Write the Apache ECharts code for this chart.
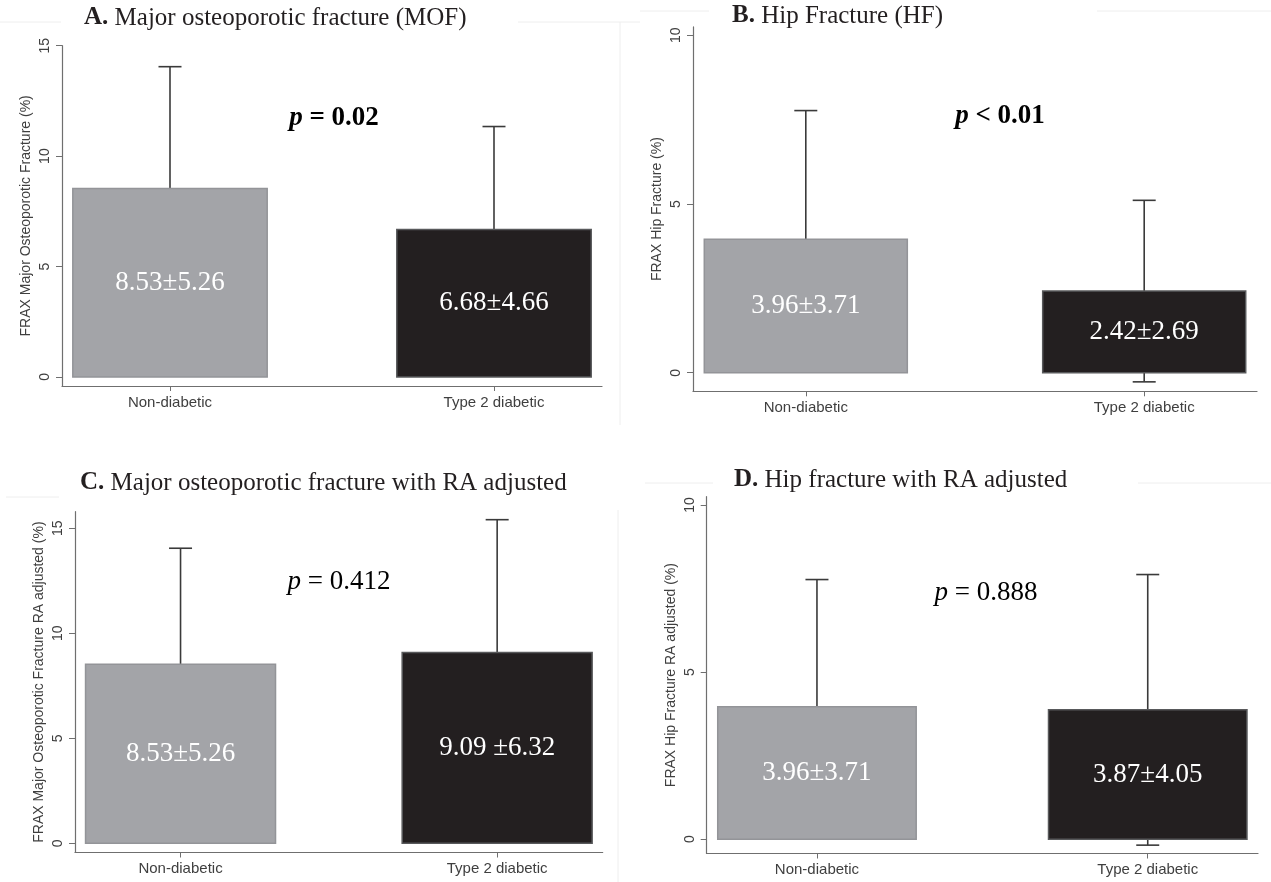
<!DOCTYPE html>
<html>
<head>
<meta charset="utf-8">
<title>FRAX scores: non-diabetic vs type 2 diabetic</title>
<script src="https://cdn.jsdelivr.net/npm/echarts@6/dist/echarts.min.js"></script>
<style>
  html, body { margin: 0; padding: 0; background: #fff; }
  #chart { width: 1271px; height: 882px; }
</style>
</head>
<body>
<div id="chart"></div>
<script>
  // categories and their positions on the x axis
  const groups = ['Non-diabetic', 'Type 2 diabetic'];
  const groupX = [1, 2];

  // A. major osteoporotic fracture
  const mofMean = [8.53, 6.68];
  const mofLow = [3.27, 2.02];
  const mofHigh = [14.05, 11.34];
  const mofText = ['8.53±5.26', '6.68±4.66'];

  // B. hip fracture
  const hfMean = [3.96, 2.42];
  const hfLow = [0.25, -0.27];
  const hfHigh = [7.77, 5.11];
  const hfText = ['3.96±3.71', '2.42±2.69'];

  // C. major osteoporotic fracture, RA adjusted
  const mofAdjMean = [8.53, 9.09];
  const mofAdjLow = [3.27, 2.77];
  const mofAdjHigh = [14.05, 15.41];
  const mofAdjText = ['8.53±5.26', '9.09 ±6.32'];

  // D. hip fracture, RA adjusted
  const hfAdjMean = [3.96, 3.87];
  const hfAdjLow = [0.25, -0.18];
  const hfAdjHigh = [7.77, 7.92];
  const hfAdjText = ['3.96±3.71', '3.87±4.05'];

  // tick labels
  const mofTicks = [0, 5, 10, 15];
  const hipTicks = [0, 5, 10];

  const serif = '"Liberation Serif", "Times New Roman", serif';
  const sans = '"Liberation Sans", Arial, sans-serif';
  const barFill = ['#a3a4a8', '#231f20'];
  const barStroke = ['#939498', '#58595b'];
  const axisColor = '#6f6f6f';
  const labelColor = '#3f3f3f';
  const BAR_HALF = 0.3;
  const CAP = 11.5;

  const panels = [
    {mean: mofMean, low: mofLow, high: mofHigh, text: mofText, ticks: mofTicks,
     name: 'FRAX Major Osteoporotic Fracture (%)',
     grid: {left: 62, right: 669, top: 45.7, bottom: 496}, min: -0.41, max: 15},
    {mean: hfMean, low: hfLow, high: hfHigh, text: hfText, ticks: hipTicks,
     name: 'FRAX Hip Fracture (%)',
     grid: {left: 693, right: 14, top: 26.9, bottom: 490.7}, min: -0.55, max: 10.25},
    {mean: mofAdjMean, low: mofAdjLow, high: mofAdjHigh, text: mofAdjText, ticks: mofTicks,
     name: 'FRAX Major Osteoporotic Fracture RA adjusted (%)',
     grid: {left: 75, right: 668.3, top: 511.7, bottom: 29.5}, min: -0.44, max: 15.79},
    {mean: hfAdjMean, low: hfAdjLow, high: hfAdjHigh, text: hfAdjText, ticks: hipTicks,
     name: 'FRAX Hip Fracture RA adjusted (%)',
     grid: {left: 706.7, right: 13, top: 496.7, bottom: 28.5}, min: -0.43, max: 10.25}
  ];

  function makeRender(panel) {
    return function (params, api) {
      const i = params.dataIndex;
      const x = api.value(0);
      const a = api.coord([x - BAR_HALF, api.value(1)]);
      const b = api.coord([x + BAR_HALF, 0]);
      const top = api.coord([x, api.value(3)]);
      const bot = api.coord([x, api.value(2)]);
      const err = {stroke: '#3a3a3a', lineWidth: 1.6};
      return {
        type: 'group',
        children: [
          {type: 'line', shape: {x1: top[0], y1: top[1], x2: bot[0], y2: bot[1]}, style: err},
          {type: 'line', shape: {x1: top[0] - CAP, y1: top[1], x2: top[0] + CAP, y2: top[1]}, style: err},
          {type: 'line', shape: {x1: bot[0] - CAP, y1: bot[1], x2: bot[0] + CAP, y2: bot[1]}, style: err},
          {type: 'rect', shape: {x: a[0], y: a[1], width: b[0] - a[0], height: b[1] - a[1]},
           style: {fill: barFill[i], stroke: barStroke[i], lineWidth: 1.5}},
          {type: 'text', x: (a[0] + b[0]) / 2, y: (a[1] + b[1]) / 2,
           style: {text: panel.text[i], fill: '#ffffff', fontSize: 27, fontFamily: serif,
                   align: 'center', verticalAlign: 'middle'}}
        ]
      };
    };
  }

  const grids = [], xAxes = [], yAxes = [], series = [];
  panels.forEach(function (p, k) {
    grids.push(Object.assign({outerBoundsMode: 'none', containLabel: false}, p.grid));
    xAxes.push({
      type: 'value', gridIndex: k, min: 2 / 3, max: 7 / 3,
      splitLine: {show: false},
      axisLine: {show: true, onZero: false, lineStyle: {color: axisColor, width: 1.2}},
      axisTick: {show: true, customValues: groupX, length: 5, lineStyle: {color: axisColor}},
      axisLabel: {customValues: groupX, margin: 9, fontSize: 15, fontFamily: sans, color: labelColor,
                  formatter: function (v) { return groups[groupX.indexOf(Math.round(v))]; }}
    });
    yAxes.push({
      type: 'value', gridIndex: k, min: p.min, max: p.max,
      splitLine: {show: false},
      name: p.name, nameLocation: 'middle', nameGap: 29,
      nameTextStyle: {fontSize: 14, fontFamily: sans, color: labelColor},
      axisLine: {show: true, onZero: false, lineStyle: {color: axisColor, width: 1.2}},
      axisTick: {show: true, customValues: p.ticks, length: 6, lineStyle: {color: axisColor}},
      axisLabel: {customValues: p.ticks, rotate: 90, margin: 10, fontSize: 14, fontFamily: sans, color: labelColor}
    });
    series.push({
      type: 'custom', xAxisIndex: k, yAxisIndex: k,
      renderItem: makeRender(p),
      encode: {x: 0, y: [1, 2, 3]},
      data: groupX.map(function (x, i) { return [x, p.mean[i], p.low[i], p.high[i]]; }),
      silent: true
    });
  });

  function title(x, y, letter, rest) {
    return {
      type: 'text', x: x, y: y,
      style: {
        text: '{b|' + letter + '}{n|' + rest + '}',
        align: 'left', verticalAlign: 'middle',
        rich: {
          b: {fontSize: 25, fontFamily: serif, fontWeight: 'bold', fill: '#231f20', color: '#231f20'},
          n: {fontSize: 25, fontFamily: serif, fill: '#231f20', color: '#231f20'}
        }
      }
    };
  }

  function pValue(x, y, rest, bold) {
    const w = bold ? 'bold' : 'normal';
    return {
      type: 'text', x: x, y: y,
      style: {
        text: '{i|p}{n|' + rest + '}',
        align: 'center', verticalAlign: 'middle',
        rich: {
          i: {fontSize: 27, fontFamily: serif, fontStyle: 'italic', fontWeight: w, color: '#231f20'},
          n: {fontSize: 27, fontFamily: serif, fontWeight: w, color: '#231f20'}
        }
      }
    };
  }

  function faint(x1, y1, x2, y2) {
    return {type: 'line', shape: {x1: x1, y1: y1, x2: x2, y2: y2}, style: {stroke: '#eeeeee', lineWidth: 1}, silent: true};
  }

  const chart = echarts.init(document.getElementById('chart'));
  chart.setOption({
    backgroundColor: '#ffffff',
    animation: false,
    grid: grids,
    xAxis: xAxes,
    yAxis: yAxes,
    series: series,
    graphic: [
      faint(0, 22, 61, 22), faint(518, 22, 640, 22), faint(620, 22, 620, 425),
      faint(640, 11, 709, 11), faint(1097, 11, 1271, 11),
      faint(6, 497, 59, 497), faint(618, 510, 618, 882),
      faint(645, 483, 713, 483), faint(1138, 483, 1271, 483),
      title(84, 18, 'A.', ' Major osteoporotic fracture (MOF)'),
      title(732, 16, 'B.', ' Hip Fracture (HF)'),
      title(80, 483, 'C.', ' Major osteoporotic fracture with RA adjusted'),
      title(734, 480, 'D.', ' Hip fracture with RA adjusted'),
      pValue(334, 118, ' = 0.02', true),
      pValue(1000, 116, ' < 0.01', true),
      pValue(339, 582, ' = 0.412', false),
      pValue(986, 593, ' = 0.888', false)
    ]
  });
</script>
</body>
</html>
